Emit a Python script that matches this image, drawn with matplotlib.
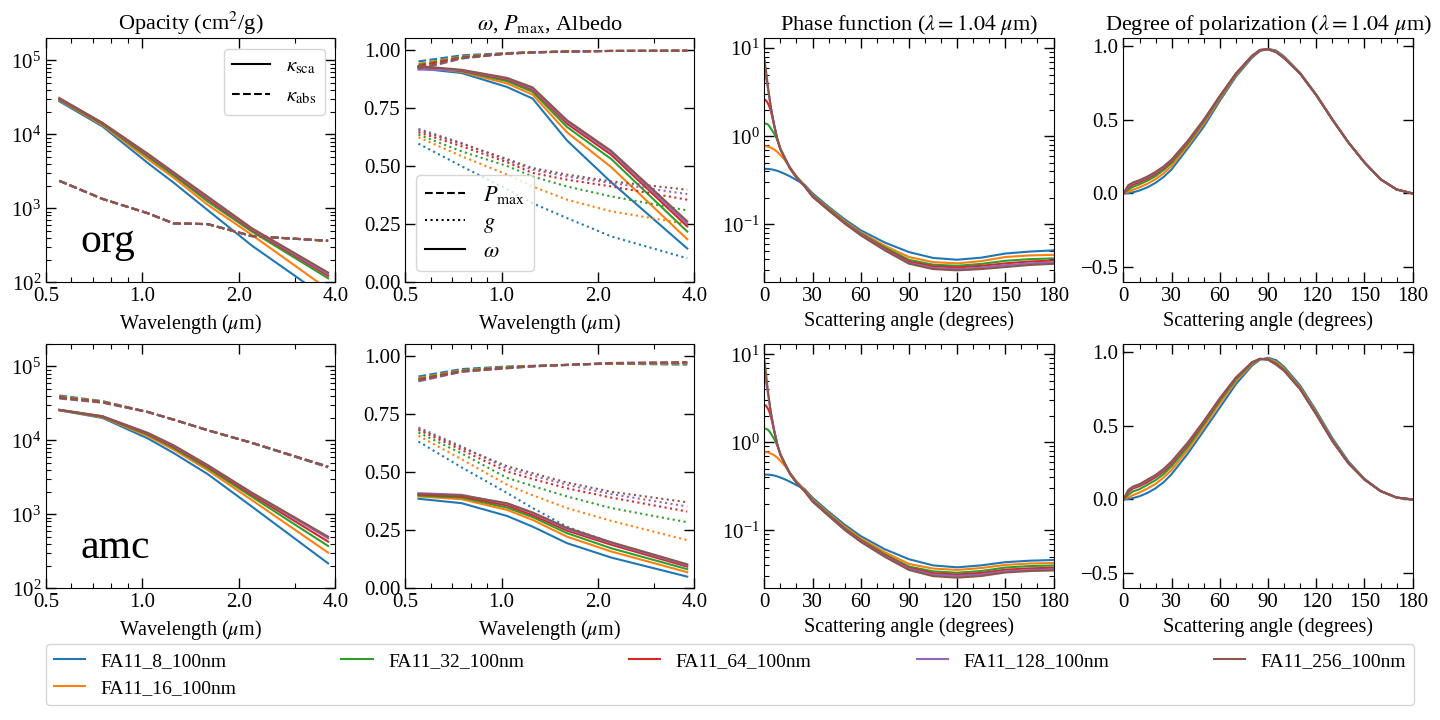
"""Optical properties of FA11 aggregates (org / amc): 2x4 panel figure.

Row 1: organics (org), row 2: amorphous carbon (amc).
Columns: opacity, albedo / g / P_max, phase function, degree of polarization.

Output: out.png
"""

import matplotlib.pyplot as plt
from matplotlib.lines import Line2D
from matplotlib.ticker import FormatStrFormatter, MultipleLocator, NullFormatter

plt.rcParams["font.family"] = "serif"
plt.rcParams["font.serif"] = ["Liberation Serif", "DejaVu Serif"]
plt.rcParams["mathtext.fontset"] = "stix"

LABELS = ["FA11_8_100nm", "FA11_16_100nm", "FA11_32_100nm",
          "FA11_64_100nm", "FA11_128_100nm", "FA11_256_100nm"]
COLORS = ["C0", "C1", "C2", "C3", "C4", "C5"]

WAVELENGTH = [0.55, 0.75, 1.04, 1.25, 1.6, 2.2, 3.8]

# --- opacities (cm^2/g), one row per aggregate ---------------------------
KSCA_ORG = [
    [28000, 12800, 4080, 2230, 940, 311, 59],
    [29000, 13300, 4600, 2600, 1110, 434, 80],
    [29500, 13700, 4950, 2800, 1230, 482, 113],
    [30000, 14000, 5200, 2950, 1320, 508, 122],
    [30500, 14200, 5350, 3020, 1380, 524, 128],
    [31000, 14300, 5460, 3080, 1435, 535, 135],
]
KABS_ORG = [
    [2340, 1335, 852, 624, 609, 419, 362],
    [2345, 1338, 853, 625, 610, 420, 362],
    [2350, 1340, 855, 625, 610, 420, 363],
    [2350, 1340, 855, 625, 610, 420, 363],
    [2355, 1342, 856, 626, 611, 421, 364],
    [2355, 1342, 856, 626, 611, 421, 364],
]
KSCA_AMC = [
    [25500, 20100, 10600, 6760, 3490, 1265, 217],
    [25600, 20500, 11400, 7500, 3950, 1550, 303],
    [25700, 20800, 11900, 7900, 4200, 1720, 373],
    [25800, 21000, 12200, 8200, 4400, 1830, 427],
    [25900, 21200, 12500, 8450, 4550, 1920, 473],
    [25900, 21200, 12600, 8600, 4620, 1955, 498],
]
KABS_AMC = [
    [40500, 34000, 24300, 19100, 13700, 9200, 4300],
    [39500, 33500, 24200, 19100, 13700, 9250, 4350],
    [38800, 33200, 24200, 19100, 13700, 9250, 4380],
    [38200, 32900, 24200, 19100, 13700, 9250, 4400],
    [36800, 32300, 24100, 19100, 13700, 9250, 4420],
    [37500, 32600, 24100, 19100, 13700, 9250, 4420],
]

# --- single-scattering albedo, asymmetry parameter, max polarization -----
OMEGA_ORG = [
    [0.920, 0.900, 0.840, 0.790, 0.610, 0.430, 0.145],
    [0.925, 0.905, 0.855, 0.807, 0.645, 0.495, 0.185],
    [0.926, 0.908, 0.865, 0.819, 0.668, 0.530, 0.218],
    [0.927, 0.910, 0.872, 0.828, 0.682, 0.548, 0.240],
    [0.915, 0.912, 0.876, 0.833, 0.691, 0.558, 0.252],
    [0.930, 0.914, 0.879, 0.838, 0.697, 0.565, 0.262],
]
G_ORG = [
    [0.596, 0.499, 0.400, 0.340, 0.276, 0.197, 0.103],
    [0.624, 0.542, 0.463, 0.412, 0.355, 0.305, 0.250],
    [0.635, 0.563, 0.500, 0.455, 0.412, 0.369, 0.309],
    [0.645, 0.585, 0.516, 0.470, 0.441, 0.412, 0.355],
    [0.660, 0.599, 0.524, 0.484, 0.455, 0.427, 0.379],
    [0.654, 0.596, 0.530, 0.491, 0.463, 0.434, 0.398],
]
PMAX_ORG = [
    [0.950, 0.976, 0.986, 0.990, 0.993, 0.995, 0.996],
    [0.940, 0.970, 0.985, 0.989, 0.993, 0.995, 0.996],
    [0.935, 0.968, 0.984, 0.989, 0.993, 0.995, 0.996],
    [0.930, 0.966, 0.984, 0.989, 0.992, 0.995, 0.996],
    [0.915, 0.962, 0.983, 0.988, 0.992, 0.995, 0.996],
    [0.920, 0.964, 0.983, 0.988, 0.992, 0.995, 0.996],
]
OMEGA_AMC = [
    [0.385, 0.366, 0.311, 0.265, 0.194, 0.132, 0.050],
    [0.395, 0.383, 0.337, 0.294, 0.222, 0.158, 0.069],
    [0.399, 0.390, 0.347, 0.306, 0.237, 0.172, 0.082],
    [0.403, 0.395, 0.356, 0.314, 0.248, 0.187, 0.093],
    [0.409, 0.402, 0.363, 0.323, 0.255, 0.194, 0.099],
    [0.405, 0.399, 0.366, 0.326, 0.260, 0.198, 0.103],
]
G_AMC = [
    [0.631, 0.520, 0.410, 0.345, 0.265, 0.195, 0.095],
    [0.656, 0.555, 0.445, 0.400, 0.345, 0.290, 0.207],
    [0.670, 0.580, 0.475, 0.440, 0.395, 0.345, 0.284],
    [0.681, 0.595, 0.502, 0.470, 0.430, 0.390, 0.330],
    [0.692, 0.610, 0.515, 0.485, 0.445, 0.405, 0.352],
    [0.686, 0.605, 0.525, 0.495, 0.455, 0.415, 0.370],
]
PMAX_AMC = [
    [0.911, 0.943, 0.954, 0.957, 0.961, 0.966, 0.962],
    [0.904, 0.938, 0.951, 0.956, 0.961, 0.967, 0.966],
    [0.900, 0.936, 0.950, 0.956, 0.961, 0.968, 0.968],
    [0.897, 0.934, 0.948, 0.955, 0.961, 0.968, 0.970],
    [0.890, 0.931, 0.946, 0.954, 0.960, 0.969, 0.972],
    [0.894, 0.932, 0.947, 0.955, 0.961, 0.969, 0.973],
]

# --- phase function at 1.04 um ------------------------------------------
PHASE_ANGLE = [0, 1, 2, 3, 4, 6, 8, 10, 13, 16, 20, 25, 30, 40, 50, 60,
               75, 90, 105, 120, 135, 150, 165, 180]
PHASE_ORG = [
    [0.426, 0.426, 0.425, 0.424, 0.422, 0.415, 0.405, 0.393, 0.372, 0.350,
     0.318, 0.282, 0.225, 0.158, 0.114, 0.0855, 0.062, 0.0484, 0.0415,
     0.0396, 0.0418, 0.0466, 0.049, 0.0506],
    [0.77, 0.77, 0.765, 0.755, 0.74, 0.71, 0.665, 0.61, 0.53, 0.445,
     0.352, 0.278, 0.216, 0.153, 0.109, 0.081, 0.057, 0.0425, 0.0372,
     0.036, 0.0382, 0.0425, 0.0443, 0.045],
    [1.40, 1.39, 1.37, 1.31, 1.23, 1.08, 0.915, 0.725, 0.555, 0.435,
     0.345, 0.275, 0.212, 0.150, 0.106, 0.079, 0.0545, 0.0395, 0.0348,
     0.0338, 0.0355, 0.0385, 0.0402, 0.041],
    [2.62, 2.55, 2.40, 2.20, 1.95, 1.37, 0.94, 0.715, 0.552, 0.432,
     0.342, 0.273, 0.209, 0.147, 0.104, 0.0775, 0.0528, 0.0378, 0.0334,
     0.0324, 0.0338, 0.036, 0.0378, 0.0388],
    [5.2, 4.6, 3.7, 2.85, 2.14, 1.36, 0.935, 0.712, 0.551, 0.431,
     0.341, 0.272, 0.207, 0.145, 0.103, 0.0762, 0.0515, 0.0365, 0.0320,
     0.0310, 0.0322, 0.0343, 0.036, 0.037],
    [7.7, 5.6, 4.0, 2.9, 2.16, 1.36, 0.93, 0.71, 0.55, 0.43,
     0.34, 0.27, 0.205, 0.144, 0.102, 0.075, 0.0505, 0.0357, 0.0310,
     0.0300, 0.0310, 0.0327, 0.0345, 0.0356],
]
PHASE_AMC = [
    [0.43, 0.43, 0.429, 0.428, 0.426, 0.42, 0.41, 0.398, 0.378, 0.356,
     0.326, 0.295, 0.235, 0.163, 0.116, 0.086, 0.061, 0.047, 0.040,
     0.038, 0.040, 0.0435, 0.0452, 0.046],
    [0.774, 0.772, 0.768, 0.76, 0.745, 0.715, 0.67, 0.615, 0.535, 0.45,
     0.36, 0.29, 0.225, 0.156, 0.11, 0.081, 0.0565, 0.0415, 0.0368,
     0.0355, 0.0373, 0.0405, 0.042, 0.0425],
    [1.43, 1.42, 1.40, 1.34, 1.26, 1.10, 0.93, 0.735, 0.565, 0.443,
     0.353, 0.285, 0.219, 0.152, 0.106, 0.078, 0.0535, 0.0388, 0.0342,
     0.033, 0.0345, 0.0378, 0.0393, 0.0398],
    [2.66, 2.60, 2.45, 2.25, 1.98, 1.39, 0.955, 0.725, 0.56, 0.44,
     0.35, 0.282, 0.216, 0.149, 0.104, 0.0765, 0.0522, 0.0375, 0.0326,
     0.0315, 0.0328, 0.0357, 0.0370, 0.0376],
    [5.6, 4.9, 3.8, 2.9, 2.18, 1.38, 0.95, 0.722, 0.558, 0.438,
     0.348, 0.28, 0.214, 0.147, 0.102, 0.075, 0.051, 0.0365, 0.0314,
     0.0303, 0.0315, 0.0343, 0.0355, 0.036],
    [8.6, 6.1, 4.2, 3.0, 2.22, 1.39, 0.945, 0.72, 0.556, 0.436,
     0.346, 0.278, 0.212, 0.146, 0.101, 0.074, 0.050, 0.0355, 0.0302,
     0.0290, 0.0303, 0.0332, 0.0345, 0.035],
]

# --- degree of linear polarization at 1.04 um ---------------------------
POL_ANGLE = [0, 3, 6, 10, 15, 20, 25, 30, 40, 50, 60, 70, 80, 85, 90, 95,
             100, 110, 120, 130, 140, 150, 160, 170, 180]
POL_ORG = [
    [0, 0.003, 0.008, 0.020, 0.042, 0.072, 0.112, 0.163, 0.305, 0.452,
     0.627, 0.790, 0.918, 0.963, 0.978, 0.966, 0.926, 0.815, 0.668, 0.502,
     0.346, 0.210, 0.097, 0.027, 0.0],
    [0, 0.012, 0.025, 0.042, 0.066, 0.097, 0.136, 0.186, 0.322, 0.472,
     0.641, 0.799, 0.924, 0.966, 0.977, 0.961, 0.921, 0.812, 0.666, 0.501,
     0.345, 0.210, 0.096, 0.027, 0.0],
    [0, 0.025, 0.045, 0.062, 0.087, 0.118, 0.158, 0.206, 0.337, 0.485,
     0.650, 0.805, 0.927, 0.968, 0.976, 0.959, 0.918, 0.810, 0.665, 0.500,
     0.345, 0.210, 0.096, 0.027, 0.0],
    [0, 0.040, 0.060, 0.076, 0.101, 0.132, 0.171, 0.218, 0.346, 0.492,
     0.655, 0.808, 0.929, 0.969, 0.975, 0.957, 0.916, 0.810, 0.665, 0.500,
     0.345, 0.210, 0.096, 0.027, 0.0],
    [0, 0.050, 0.070, 0.085, 0.110, 0.141, 0.178, 0.226, 0.351, 0.496,
     0.658, 0.810, 0.930, 0.970, 0.975, 0.956, 0.915, 0.810, 0.665, 0.500,
     0.345, 0.210, 0.096, 0.027, 0.0],
    [0, 0.056, 0.075, 0.090, 0.115, 0.146, 0.183, 0.230, 0.355, 0.499,
     0.660, 0.812, 0.931, 0.971, 0.975, 0.955, 0.915, 0.810, 0.665, 0.500,
     0.345, 0.210, 0.096, 0.027, 0.0],
]
POL_AMC = [
    [0, 0.004, 0.010, 0.022, 0.045, 0.076, 0.117, 0.172, 0.310, 0.465,
     0.622, 0.780, 0.905, 0.945, 0.958, 0.942, 0.897, 0.770, 0.600, 0.415,
     0.258, 0.140, 0.058, 0.013, 0.0],
    [0, 0.015, 0.030, 0.048, 0.075, 0.106, 0.149, 0.200, 0.335, 0.490,
     0.650, 0.800, 0.915, 0.948, 0.953, 0.930, 0.886, 0.758, 0.588, 0.405,
     0.250, 0.137, 0.057, 0.013, 0.0],
    [0, 0.032, 0.055, 0.070, 0.100, 0.131, 0.172, 0.225, 0.355, 0.508,
     0.668, 0.812, 0.922, 0.950, 0.949, 0.920, 0.878, 0.750, 0.580, 0.400,
     0.247, 0.136, 0.057, 0.013, 0.0],
    [0, 0.050, 0.075, 0.090, 0.118, 0.151, 0.190, 0.243, 0.372, 0.520,
     0.677, 0.820, 0.926, 0.951, 0.947, 0.915, 0.873, 0.747, 0.577, 0.397,
     0.246, 0.135, 0.057, 0.013, 0.0],
    [0, 0.060, 0.083, 0.099, 0.130, 0.161, 0.200, 0.253, 0.380, 0.527,
     0.682, 0.823, 0.927, 0.951, 0.946, 0.913, 0.871, 0.746, 0.576, 0.396,
     0.245, 0.135, 0.057, 0.013, 0.0],
    [0, 0.065, 0.088, 0.104, 0.135, 0.166, 0.207, 0.258, 0.385, 0.530,
     0.685, 0.825, 0.928, 0.951, 0.945, 0.912, 0.870, 0.745, 0.575, 0.395,
     0.245, 0.135, 0.057, 0.013, 0.0],
]

TICK_FS = 15
LABEL_FS = 14.5
TITLE_FS = 16


def _ticks(ax) -> None:
    """Inward ticks on all four sides."""
    ax.tick_params(which="both", direction="in", top=True, right=True,
                   labelsize=TICK_FS)
    ax.tick_params(which="major", length=7, width=1.0)
    ax.tick_params(which="minor", length=3.5, width=0.8)


def _wavelength_axis(ax) -> None:
    ax.set_xscale("log")
    ax.set_xlim(0.5, 4.0)
    ax.set_xticks([0.5, 1.0, 2.0, 4.0])
    ax.xaxis.set_major_formatter(FormatStrFormatter("%.1f"))
    ax.xaxis.set_minor_formatter(NullFormatter())
    ax.set_xlabel(r"Wavelength ($\mu$m)", fontsize=LABEL_FS)


def _angle_axis(ax) -> None:
    ax.set_xlim(0, 180)
    ax.xaxis.set_major_locator(MultipleLocator(30))
    ax.xaxis.set_minor_locator(MultipleLocator(10))
    ax.set_xlabel("Scattering angle (degrees)", fontsize=LABEL_FS)


def _panel_opacity(ax, ksca, kabs, tag, legend) -> None:
    for sca, ab, color in zip(ksca, kabs, COLORS):
        ax.plot(WAVELENGTH, sca, color=color, lw=1.5)
        ax.plot(WAVELENGTH, ab, color=color, lw=1.5, ls="--")
    ax.set_yscale("log")
    ax.set_ylim(1e2, 2e5)
    _wavelength_axis(ax)
    ax.text(0.12, 0.125, tag, transform=ax.transAxes, fontsize=30)
    if legend:
        handles = [Line2D([], [], color="k", lw=1.5),
                   Line2D([], [], color="k", lw=1.5, ls="--")]
        ax.legend(handles, [r"$\kappa_{\rm sca}$", r"$\kappa_{\rm abs}$"],
                  loc="upper right", fontsize=15, handlelength=1.8)
        ax.set_title(r"Opacity (cm$^2$/g)", fontsize=TITLE_FS)
    _ticks(ax)


def _panel_albedo(ax, omega, g, pmax, legend) -> None:
    for om, gg, pm, color in zip(omega, g, pmax, COLORS):
        ax.plot(WAVELENGTH, pm, color=color, lw=1.5, ls="--")
        ax.plot(WAVELENGTH, gg, color=color, lw=1.5, ls=":")
        ax.plot(WAVELENGTH, om, color=color, lw=1.5)
    ax.set_ylim(0, 1.05)
    ax.yaxis.set_major_locator(MultipleLocator(0.25))
    _wavelength_axis(ax)
    if legend:
        handles = [Line2D([], [], color="k", lw=1.5, ls="--"),
                   Line2D([], [], color="k", lw=1.5, ls=":"),
                   Line2D([], [], color="k", lw=1.5)]
        ax.legend(handles, [r"$P_{\rm max}$", r"$g$", r"$\omega$"],
                  loc="lower left", fontsize=16, handlelength=1.8,
                  labelspacing=0.3)
        ax.set_title(r"$\omega$, $P_{\rm max}$, Albedo", fontsize=TITLE_FS)
    _ticks(ax)


def _panel_phase(ax, phase, title) -> None:
    for vals, color in zip(phase, COLORS):
        ax.plot(PHASE_ANGLE, vals, color=color, lw=1.5)
    ax.set_yscale("log")
    ax.set_ylim(0.022, 13)
    _angle_axis(ax)
    if title:
        ax.set_title(r"Phase function ($\lambda = 1.04$ $\mu$m)",
                     fontsize=TITLE_FS)
    _ticks(ax)


def _panel_pol(ax, pol, title) -> None:
    for vals, color in zip(pol, COLORS):
        ax.plot(POL_ANGLE, vals, color=color, lw=1.5)
    ax.set_ylim(-0.6, 1.05)
    ax.yaxis.set_major_locator(MultipleLocator(0.5))
    _angle_axis(ax)
    if title:
        ax.set_title(r"Degree of polarization ($\lambda = 1.04$ $\mu$m)",
                     fontsize=TITLE_FS)
    _ticks(ax)


def main() -> None:
    fig, axes = plt.subplots(2, 4, figsize=(14.4, 7.2), dpi=100)
    fig.subplots_adjust(left=0.032, right=0.981, bottom=0.183, top=0.947,
                        wspace=0.242, hspace=0.254)

    _panel_opacity(axes[0, 0], KSCA_ORG, KABS_ORG, "org", True)
    _panel_albedo(axes[0, 1], OMEGA_ORG, G_ORG, PMAX_ORG, True)
    _panel_phase(axes[0, 2], PHASE_ORG, True)
    _panel_pol(axes[0, 3], POL_ORG, True)

    _panel_opacity(axes[1, 0], KSCA_AMC, KABS_AMC, "amc", False)
    _panel_albedo(axes[1, 1], OMEGA_AMC, G_AMC, PMAX_AMC, False)
    _panel_phase(axes[1, 2], PHASE_AMC, False)
    _panel_pol(axes[1, 3], POL_AMC, False)

    handles = [Line2D([], [], color=c, lw=1.5) for c in COLORS]
    fig.legend(handles, LABELS, loc="lower left", ncol=5, mode="expand",
               bbox_to_anchor=(0.032, 0.021, 0.950, 0.079), fontsize=14,
               handlelength=1.6, borderaxespad=0.0)

    fig.savefig("out.png", dpi=100)
    plt.close(fig)


if __name__ == "__main__":
    main()
